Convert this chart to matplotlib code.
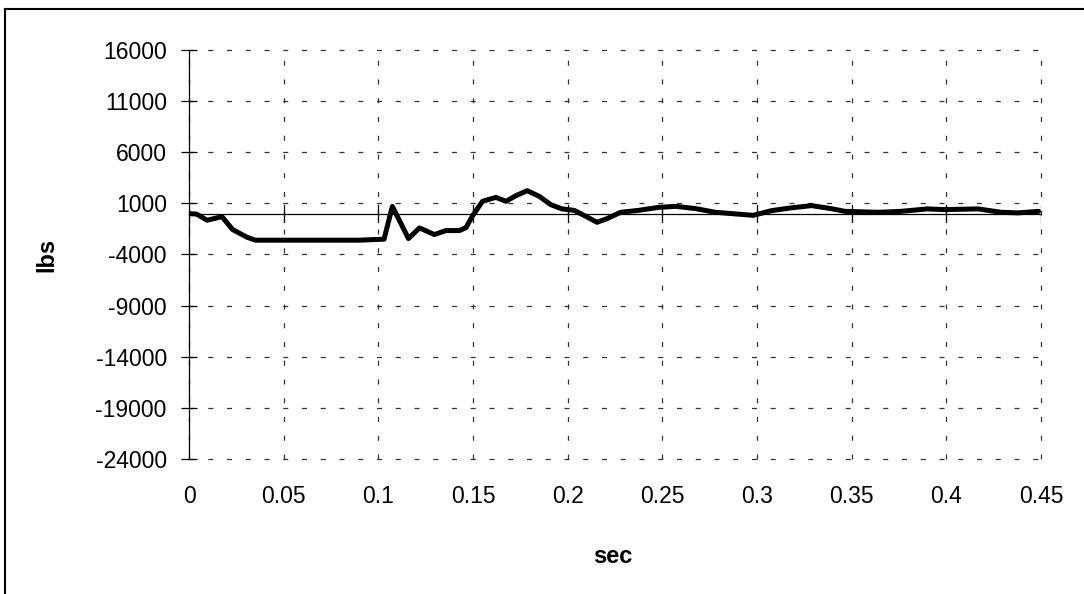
import matplotlib
matplotlib.use("Agg")
import matplotlib.pyplot as plt
from matplotlib.lines import Line2D

# Data
t = [0.000, 0.004, 0.0095, 0.0174, 0.023, 0.0305, 0.035, 0.060, 0.090, 0.103,
     0.1074, 0.1159, 0.1217, 0.1296, 0.1357, 0.1428, 0.1463, 0.1496, 0.155,
     0.1621, 0.1674, 0.1727, 0.1786, 0.185, 0.191, 0.197, 0.2034, 0.2095,
     0.2155, 0.2207, 0.228, 0.2376, 0.248, 0.257, 0.2675, 0.278, 0.2886,
     0.298, 0.3077, 0.318, 0.3288, 0.339, 0.3465, 0.364, 0.376, 0.390,
     0.399, 0.4168, 0.4289, 0.4378, 0.4487]
force = [0, -50, -650, -300, -1560, -2300, -2600, -2600, -2600, -2500,
         700, -2440, -1400, -2050, -1660, -1660, -1370, -260, 1200,
         1590, 1200, 1760, 2240, 1690, 880, 460, 320, -260,
         -850, -500, 130, 320, 610, 710, 490, 130, -30,
         -170, 290, 560, 780, 490, 220, 130, 220, 460,
         390, 460, 130, 70, 220]
y_ticks = [16000, 11000, 6000, 1000, -4000, -9000, -14000, -19000, -24000]
x_ticks = [0, 0.05, 0.1, 0.15, 0.2, 0.25, 0.3, 0.35, 0.4, 0.45]
x_tick_labels = ["0", "0.05", "0.1", "0.15", "0.2", "0.25", "0.3", "0.35", "0.4", "0.45"]

plt.rcParams['font.family'] = ['Liberation Sans', 'DejaVu Sans']

fig = plt.figure(figsize=(10.84, 5.94), dpi=100)
ax = fig.add_axes([0.1744, 0.2273, 0.9603 - 0.1744, 0.9158 - 0.2273])

ax.plot(t, force, color='black', lw=3.6, solid_joinstyle='round',
        solid_capstyle='round', zorder=4)
ax.axhline(0, color='black', lw=0.9, zorder=3)

ax.set_xlim(0, 0.45)
ax.set_ylim(-24000, 16000)
ax.set_yticks(y_ticks)
ax.set_yticklabels([str(v) for v in y_ticks])
ax.set_xticks(x_ticks)
ax.set_xticklabels(x_tick_labels)

for s in ['top', 'right', 'bottom']:
    ax.spines[s].set_visible(False)
ax.spines['left'].set_linewidth(0.9)

ax.grid(True, color='#333333', lw=0.9, linestyle=(0, (4, 11)))
for gl in ax.get_xgridlines() + ax.get_ygridlines():
    gl.set_clip_on(False)
ax.tick_params(axis='y', direction='inout', length=12, width=0.9, labelsize=16.5, pad=10)
ax.tick_params(axis='x', length=0, labelsize=16.5, pad=19)

# x ticks on the zero line
for xv in x_ticks:
    ax.plot([xv, xv], [-800, 800], color='black', lw=0.9, zorder=3)

ax.set_ylabel('lbs', fontsize=17, fontweight='bold')
ax.set_xlabel('sec', fontsize=17, fontweight='bold')
ax.yaxis.set_label_coords(-0.153, 0.5)
ax.xaxis.set_label_coords(0.497, -0.21)

# Figure border (left and top)
fig.add_artist(Line2D([5/1084, 5/1084], [0, 1 - 9/594], color='black', lw=1.5, transform=fig.transFigure))
fig.add_artist(Line2D([5/1084, 1], [1 - 9/594, 1 - 9/594], color='black', lw=1.5, transform=fig.transFigure))

fig.savefig('out.png', dpi=100)
